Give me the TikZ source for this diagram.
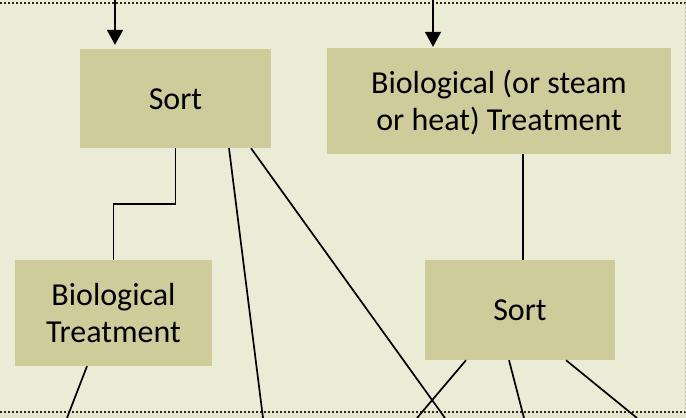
\documentclass[tikz,border=0pt]{standalone}
\usepackage{fontspec}
\setmainfont{Carlito}
\usetikzlibrary{arrows.meta,calc}
\definecolor{bgc}{RGB}{235,236,214}
\definecolor{boxc}{RGB}{205,204,154}
\definecolor{stripc}{RGB}{228,229,203}
\definecolor{dotc}{RGB}{40,40,30}
\newcommand\mytopstrut{\rule{0pt}{28pt}}
\newcommand\mybotstrut{\rule[-7pt]{0pt}{7pt}}
\tikzset{
  boxnode/.style={fill=boxc, draw=none, inner sep=0pt, align=center,
    font=\fontsize{32}{37}\selectfont},
  conn/.style={line width=1.7pt, black},
  arr/.style={conn, -{Triangle[width=16pt,length=15pt]}},
  dotline/.style={dotc, line width=2pt, dash pattern=on 2pt off 2pt},
}
\begin{document}
\begin{tikzpicture}[x=1pt,y=-1pt]
\useasboundingbox (0,0) rectangle (686,418);
\fill[bgc] (0,0) rectangle (686,418);
\fill[stripc] (0,413) rectangle (686,418);
\draw[dotline] (0,3) -- (686,3);
\draw[dotline] (0,412) -- (686,412);
\draw[gray!60, line width=1pt, dash pattern=on 2pt off 2pt] (685,3) -- (685,412);

\node[boxnode, minimum width=191, minimum height=99] (A) at (175.5,98.5) {\mytopstrut Sort\mybotstrut};
\node[boxnode, minimum width=344, minimum height=106] (B) at (499,101) {\mytopstrut Biological (or steam\\or heat) Treatment\mybotstrut};
\node[boxnode, minimum width=197, minimum height=106] (C) at (113.5,313) {\mytopstrut Biological\\Treatment\mybotstrut};
\node[boxnode, minimum width=190, minimum height=100] (D) at (520,310) {\mytopstrut Sort\mybotstrut};

\coordinate (t1) at (115,0);
\coordinate (t2) at (433,0);
\coordinate (e1) at (263,418);
\coordinate (e2) at (445,418);
\coordinate (e3) at (67,418);
\coordinate (e4) at (417,418);
\coordinate (e5) at (524,418);
\coordinate (e6) at (637,418);

\draw[arr, shorten >=4pt] (t1) -- (t1 |- A.north);
\draw[arr, shorten >=1pt] (t2) -- (t2 |- B.north);

\draw[conn] (A.south) -- (A.south |- 0,204) -| (C.north);
\draw[conn] ([xshift=53.5]A.south) -- (e1);
\draw[conn] ([xshift=75.5]A.south) -- (e2);
\draw[conn] ([xshift=24]B.south) -- ([xshift=3]D.north);
\draw[conn] ([xshift=-26.5]C.south) -- (e3);
\draw[conn] ([xshift=-54]D.south) -- (e4);
\draw[conn] ([xshift=-11]D.south) -- (e5);
\draw[conn] ([xshift=46]D.south) -- (e6);
\end{tikzpicture}
\end{document}
